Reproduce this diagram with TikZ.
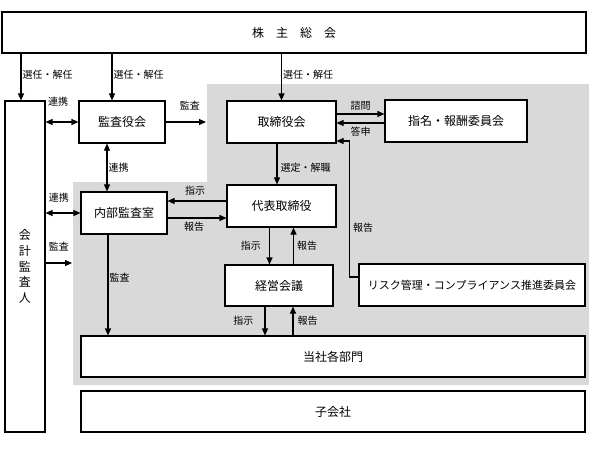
\documentclass[tikz,border=0pt]{standalone}
\usepackage{fontspec}
\setmainfont{Noto Sans CJK JP}
\usetikzlibrary{positioning,arrows.meta}
\definecolor{boardgray}{RGB}{217,217,217}

\begin{document}
\begin{tikzpicture}[x=1pt, y=-1pt,
    box/.style={draw, fill=white, line width=1.1pt, inner sep=0pt, font=\fontsize{12}{14}\selectfont},
    lbl/.style={inner sep=1pt, font=\fontsize{10}{12}\selectfont},
    arr/.style={-{Triangle[length=7pt,width=6pt]}, line width=1.1pt},
    darr/.style={{Triangle[length=7pt,width=6pt]}-{Triangle[length=7pt,width=6pt]}, line width=1.1pt}]
    \useasboundingbox (0,0) rectangle (589,448);

    % Gray area
    \fill[boardgray] (207,84) -- (589,84) -- (589,385) -- (73,385) -- (73,182) -- (207,182) -- cycle;
    \coordinate (edgeA) at (206,122);
    \coordinate (edgeB) at (72,263);

    % Boxes
    \node (sh) [box, minimum width=584pt, minimum height=41pt] at (294,32.5) {株\quad 主\quad 総\quad 会};
    \node (kaikei) [box, minimum width=40pt, minimum height=331pt, align=center, font=\fontsize{12}{15.7}\selectfont] at (25,266.5) {会\\計\\監\\査\\人};
    \node (kansayaku) [box, minimum width=86pt, minimum height=42pt] at (122,122) {監査役会};
    \node (torishimari) [box, minimum width=109pt, minimum height=42pt] at (281.5,122) {取締役会};
    \node (shimei) [box, minimum width=142pt, minimum height=42pt] at (456,121) {指名・報酬委員会};
    \node (naibu) [box, minimum width=86pt, minimum height=42pt] at (124,213) {内部監査室};
    \node (daihyo) [box, minimum width=109pt, minimum height=42pt] at (281.5,206) {代表取締役};
    \node (keiei) [box, minimum width=108pt, minimum height=41pt] at (279,285.5) {経営会議};
    \node (risk) [box, minimum width=226pt, minimum height=42pt, font=\fontsize{11}{13}\selectfont] at (472,285) {リスク管理・コンプライアンス推進委員会};
    \node (tosha) [box, minimum width=504pt, minimum height=41pt] at (333,356.5) {当社各部門};
    \node (kogaisha) [box, minimum width=504pt, minimum height=41pt] at (333,411.5) {子会社};

    % Arrows from the shareholders
    \draw[arr] ([xshift=-4pt]kaikei.north |- sh.south) -- ([xshift=-4pt]kaikei.north) node[lbl, pos=0.45, right] {選任・解任};
    \draw[arr] ([xshift=-10pt]kansayaku.north |- sh.south) -- ([xshift=-10pt]kansayaku.north) node[lbl, pos=0.45, right] {選任・解任};
    \draw[arr] (torishimari.north |- sh.south) -- (torishimari.north) node[lbl, pos=0.45, right] {選任・解任};

    % Audit arrows
    \draw[darr] (kaikei.east |- kansayaku) -- (kansayaku.west) node[lbl, pos=0.38, above=14pt] {連携};
    \draw[arr] (kansayaku.east) -- (edgeA) node[lbl, pos=0.6, above=10pt] {監査};
    \draw[darr] ([xshift=-15pt]kansayaku.south) -- ([xshift=-15pt]kansayaku.south |- naibu.north) node[lbl, midway, right] {連携};
    \draw[darr] (kaikei.east |- naibu) -- (naibu.west) node[lbl, pos=0.38, above=9pt] {連携};
    \draw[arr] (kaikei.east |- edgeB) -- (edgeB) node[lbl, midway, above=10pt] {監査};
    \draw[arr] ([xshift=-16pt]naibu.south) -- ([xshift=-16pt]naibu.south |- tosha.north) node[lbl, pos=0.43, right] {監査};

    % Representative director and internal audit
    \draw[arr] ([yshift=5pt]daihyo.west) -- ([yshift=5pt]daihyo.west -| naibu.east) node[lbl, pos=0.53, above=4pt] {指示};
    \draw[arr] ([yshift=-12pt]daihyo.west -| naibu.east) -- ([yshift=-12pt]daihyo.west) node[lbl, pos=0.45, below=3pt] {報告};

    % Board chain
    \draw[arr] ([xshift=-4.5pt]torishimari.south) -- ([xshift=-4.5pt]torishimari.south |- daihyo.north) node[lbl, pos=0.6, right=2pt] {選定・解職};
    \draw[arr] ([xshift=-12pt]daihyo.south) -- ([xshift=-12pt]daihyo.south |- keiei.north) node[lbl, midway, left=7pt] {指示};
    \draw[arr] ([xshift=12pt]daihyo.south |- keiei.north) -- ([xshift=12pt]daihyo.south) node[lbl, midway, right=2pt] {報告};
    \draw[arr] ([xshift=-14pt]keiei.south) -- ([xshift=-14pt]keiei.south |- tosha.north) node[lbl, midway, left=10pt] {指示};
    \draw[arr] ([xshift=14pt]keiei.south |- tosha.north) -- ([xshift=14pt]keiei.south) node[lbl, midway, right=3pt] {報告};

    % Committees
    \draw[arr] ([yshift=8pt]torishimari.east) -- ([yshift=8pt]torishimari.east -| shimei.west) node[lbl, midway, above=2pt] {諮問};
    \draw[arr] ([yshift=-1pt]torishimari.east -| shimei.west) -- ([yshift=-1pt]torishimari.east) node[lbl, midway, below=2pt] {答申};
    \draw[arr] ([yshift=8pt]risk.west) -| ([yshift=-19pt,xshift=13pt]torishimari.east) node[lbl, pos=0.68, right=2pt] {報告} -- ([yshift=-19pt]torishimari.east);
\end{tikzpicture}
\end{document}
